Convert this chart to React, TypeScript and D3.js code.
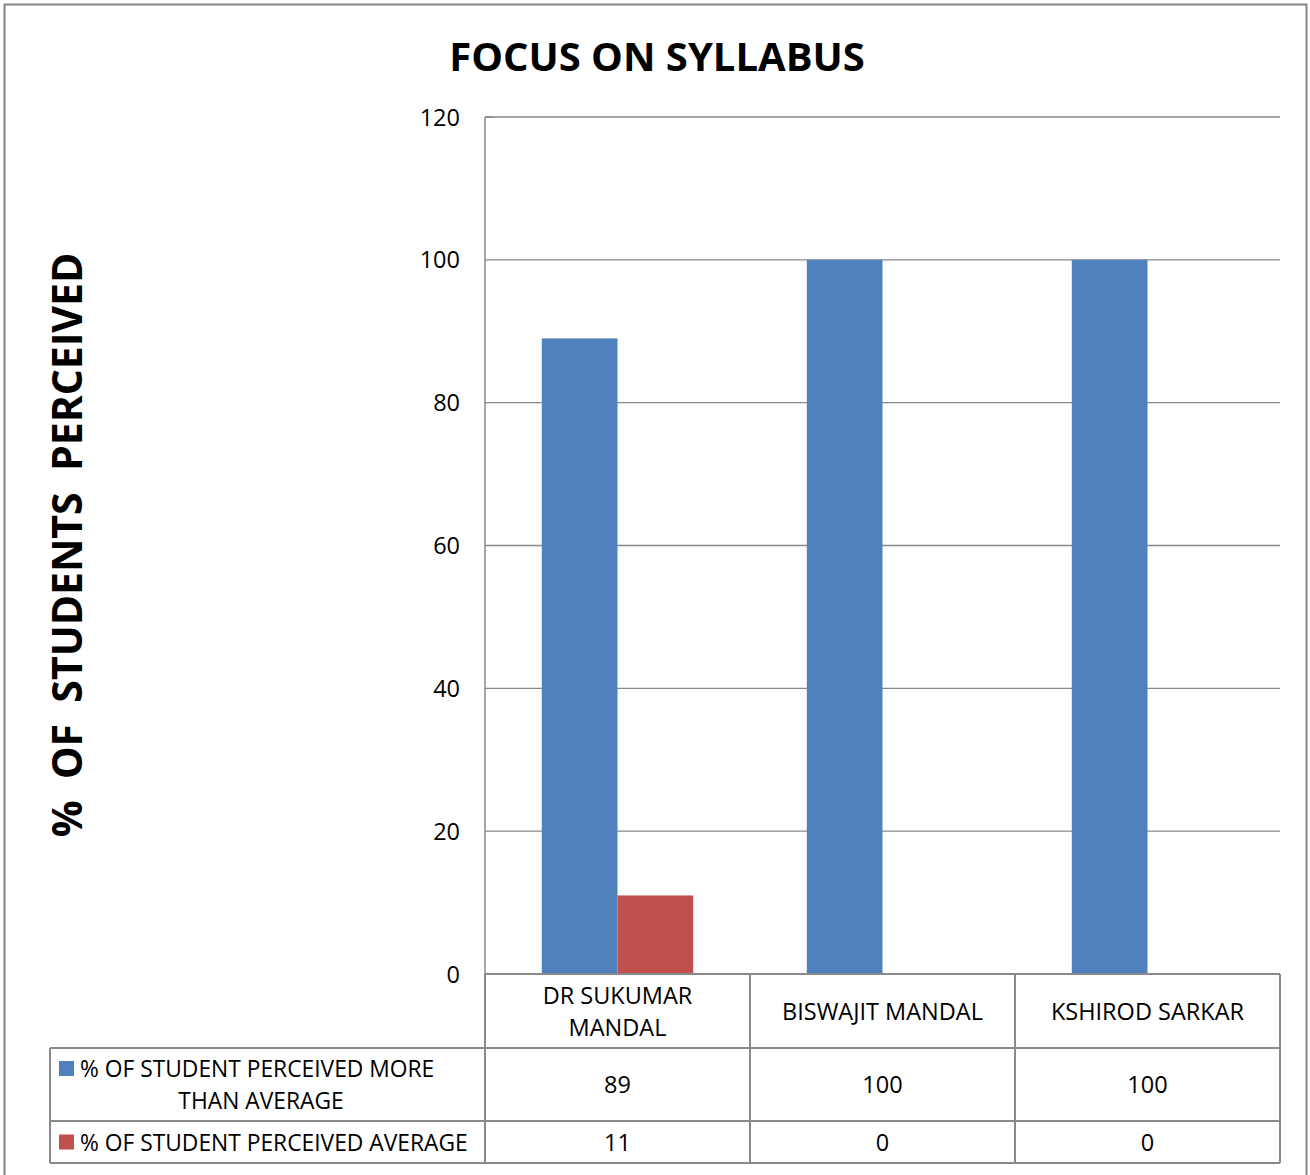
import * as d3 from "d3";

const categories = ["DR SUKUMAR MANDAL", "BISWAJIT MANDAL", "KSHIROD SARKAR"];
const categoryLines = [["DR SUKUMAR", "MANDAL"], ["BISWAJIT MANDAL"], ["KSHIROD SARKAR"]];
const seriesNames = ["% OF STUDENT PERCEIVED MORE THAN AVERAGE", "% OF STUDENT PERCEIVED AVERAGE"];
const seriesLegendLines = [["% OF STUDENT PERCEIVED MORE", "THAN AVERAGE"], ["% OF STUDENT PERCEIVED AVERAGE"]];
const moreThanAverage = [89, 100, 100];
const average = [11, 0, 0];
const yTicks = [0, 20, 40, 60, 80, 100, 120];

const colors = ["#4f81bd", "#c0504d"];
const font = "'Open Sans', sans-serif";
const fs = 23.5;

export default function App() {
  const W = 1310;
  const H = 1175;
  const plot = { left: 485, right: 1280, top: 117, bottom: 974 };
  const table = { left: 50, row1: 1048, row2: 1121, bottom: 1163 };

  const series = [moreThanAverage, average];

  const x = d3.scaleBand<string>().domain(categories).range([plot.left, plot.right]);
  const inner = d3
    .scaleBand<number>()
    .domain([0, 1])
    .range([0, x.bandwidth()])
    .paddingInner(0)
    .paddingOuter(0.75);
  const y = d3.scaleLinear().domain([0, 120]).range([plot.bottom, plot.top]);

  const grid = "#898989";
  const colEdges = [plot.left, ...categories.map((c) => (x(c) ?? 0) + x.bandwidth())];
  const rowMid = [(plot.bottom + table.row1) / 2, (table.row1 + table.row2) / 2, (table.row2 + table.bottom) / 2];

  return (
    <svg width={W} height={H} style={{ display: "block", position: "absolute", left: 0, top: 0 }}>
      <rect x={4.5} y={4.5} width={1302} height={1180} fill="#fff" stroke="#868686" strokeWidth={2} />

      <text x={657} y={71} textAnchor="middle" fontFamily={font} fontWeight={700} fontSize={40} fill="#000">
        FOCUS ON SYLLABUS
      </text>

      <text
        transform={`translate(82,545) rotate(-90)`}
        textAnchor="middle"
        fontFamily={font}
        fontWeight={700}
        fontSize={41}
        fill="#000"
        style={{ whiteSpace: "pre" }}
      >
        {"%  OF  STUDENTS  PERCEIVED"}
      </text>

      {yTicks.map((t) => (
        <g key={t}>
          {t > 0 && (
            <line x1={plot.left} x2={plot.right} y1={y(t)} y2={y(t)} stroke={grid} strokeWidth={1.3} />
          )}
          <text x={460} y={y(t) + 8.5} textAnchor="end" fontFamily={font} fontSize={fs} fill="#000">
            {t}
          </text>
        </g>
      ))}

      {series.map((vals, si) =>
        vals.map((v, ci) =>
          v > 0 ? (
            <rect
              key={`${si}-${ci}`}
              x={(x(categories[ci]) ?? 0) + (inner(si) ?? 0)}
              y={y(v)}
              width={inner.bandwidth()}
              height={y(0) - y(v)}
              fill={colors[si]}
            />
          ) : null
        )
      )}

      {/* value axis */}
      <line x1={plot.left} x2={plot.left} y1={plot.top} y2={table.bottom} stroke={grid} strokeWidth={1.5} />
      <line x1={plot.left} x2={plot.left + 8} y1={plot.top} y2={plot.top} stroke={grid} strokeWidth={1.5} />

      {/* data table */}
      <g stroke={grid} strokeWidth={2} fill="none">
        <line x1={plot.left} x2={plot.right} y1={plot.bottom} y2={plot.bottom} />
        <line x1={table.left} x2={plot.right} y1={table.row1} y2={table.row1} />
        <line x1={table.left} x2={plot.right} y1={table.row2} y2={table.row2} />
        <line x1={table.left} x2={plot.right} y1={table.bottom} y2={table.bottom} />
        <line x1={table.left} x2={table.left} y1={table.row1} y2={table.bottom} />
        {colEdges.map((cx, i) => (
          <line key={i} x1={cx} x2={cx} y1={plot.bottom} y2={table.bottom} />
        ))}
      </g>

      {categoryLines.map((lines, ci) => {
        const cx = (x(categories[ci]) ?? 0) + x.bandwidth() / 2;
        return (
          <text key={ci} textAnchor="middle" fontFamily={font} fontSize={fs} fill="#000">
            {lines.map((l, li) => (
              <tspan key={li} x={cx} y={rowMid[0] + 8.5 + (li - (lines.length - 1) / 2) * 32}>
                {l}
              </tspan>
            ))}
          </text>
        );
      })}

      {series.map((vals, si) =>
        vals.map((v, ci) => (
          <text
            key={`v${si}-${ci}`}
            x={(x(categories[ci]) ?? 0) + x.bandwidth() / 2}
            y={rowMid[si + 1] + 8.5}
            textAnchor="middle"
            fontFamily={font}
            fontSize={fs}
            fill="#000"
          >
            {v}
          </text>
        ))
      )}

      {seriesLegendLines.map((lines, si) => {
        const firstY = rowMid[si + 1] - ((lines.length - 1) / 2) * 32;
        return (
          <g key={si}>
            <title>{seriesNames[si]}</title>
            <rect x={59} y={firstY - 7.5} width={15} height={15} fill={colors[si]} />
            <text fontFamily={font} fontSize={22.8} fill="#000">
              {lines.map((l, li) => (
                <tspan
                  key={li}
                  x={li === 0 ? 80 : 261}
                  textAnchor={li === 0 ? "start" : "middle"}
                  y={firstY + 8.5 + li * 32}
                >
                  {l}
                </tspan>
              ))}
            </text>
          </g>
        );
      })}
    </svg>
  );
}
